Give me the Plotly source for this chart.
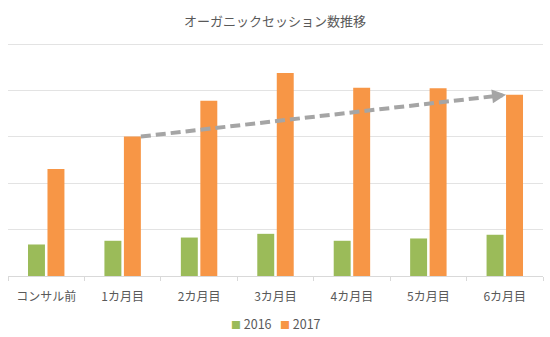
import plotly.graph_objects as go

# Monthly organic sessions, before consulting and the six months after
categories = ["コンサル前", "1カ月目", "2カ月目", "3カ月目", "4カ月目", "5カ月目", "6カ月目"]
sessions_2016 = [680, 760, 830, 910, 760, 810, 890]
sessions_2017 = [2310, 3010, 3780, 4380, 4060, 4050, 3910]
series_names = ["2016", "2017"]

GREEN = "#9BBB59"
ORANGE = "#F79646"
TREND = "#A5A5A5"
TEXT = "#595959"
GRID = "#E3E3E3"
FONT = "Noto Sans CJK JP"

BARGAP = 0.49
BARGROUPGAP = 0.13
Y_MAX = 5000

W, H = 550, 337
M_TOP, M_BOTTOM = 42, 61

fig = go.Figure()
fig.add_trace(go.Bar(x=categories, y=sessions_2016, name=series_names[0],
                     marker=dict(color=GREEN, line=dict(width=0)), showlegend=False))
fig.add_trace(go.Bar(x=categories, y=sessions_2017, name=series_names[1],
                     marker=dict(color=ORANGE, line=dict(width=0)), showlegend=False))

# Geometry of the 2017 bar inside each category slot
slot = (1 - BARGAP) / 2
half_bar = slot * (1 - BARGROUPGAP) / 2
orange_center = slot / 2

# Dashed trend arrow from the top of the 1st-month bar to the 6th-month bar
x_start = 1 + orange_center + half_bar
y_start = sessions_2017[1]
x_end = 6 + orange_center - half_bar
y_end = sessions_2017[6]
head_frac = 0.03
x_head = x_end - (x_end - x_start) * head_frac
y_head = y_end - (y_end - y_start) * head_frac

fig.add_shape(type="line", xref="x", yref="y",
              x0=x_start, y0=y_start, x1=x_head, y1=y_head,
              line=dict(color=TREND, width=4, dash="10px,5px"))
fig.add_annotation(x=x_end, y=y_end, ax=x_head - (x_end - x_start) * 0.01,
                   ay=y_head - (y_end - y_start) * 0.01,
                   xref="x", yref="y", axref="x", ayref="y",
                   text="", showarrow=True, arrowhead=2, arrowsize=0.7,
                   arrowwidth=4, arrowcolor=TREND, standoff=0)

# Compact legend below the axis: coloured squares followed by the series names
plot_h = H - M_TOP - M_BOTTOM
legend_y = -(323 - (H - M_BOTTOM)) / plot_h
legend_text = "&nbsp;&nbsp;&nbsp;".join(
    f"<span style='color:{c};font-size:10px'>■</span> {name}"
    for c, name in zip([GREEN, ORANGE], series_names)
)
fig.add_annotation(text=legend_text, xref="paper", yref="paper",
                   x=0.5, y=legend_y, xanchor="center", yanchor="middle",
                   showarrow=False, font=dict(size=12.5, color=TEXT, family=FONT))

fig.update_layout(
    width=W, height=H,
    margin=dict(l=8, r=7, t=M_TOP, b=M_BOTTOM, autoexpand=False),
    paper_bgcolor="white", plot_bgcolor="white",
    barmode="group", bargap=BARGAP, bargroupgap=BARGROUPGAP,
    font=dict(family=FONT, color=TEXT),
    title=dict(text="オーガニックセッション数推移", x=0.5, xanchor="center",
               y=1 - 21 / H, yanchor="middle", yref="container",
               font=dict(size=13, color=TEXT, family=FONT)),
    showlegend=False,
)
fig.update_xaxes(type="category", showgrid=False, showline=True, linecolor="#D9D9D9",
                 linewidth=1, ticks="outside", tickson="boundaries", ticklen=4,
                 tickcolor="#D9D9D9", tickfont=dict(size=12, color=TEXT, family=FONT),
                 ticklabelstandoff=10, fixedrange=True)
fig.update_yaxes(range=[0, Y_MAX * 1.01], dtick=1000, showgrid=True, gridcolor=GRID,
                 gridwidth=1, showticklabels=False, zeroline=False, showline=False,
                 fixedrange=True)

fig.write_html("out.html")
